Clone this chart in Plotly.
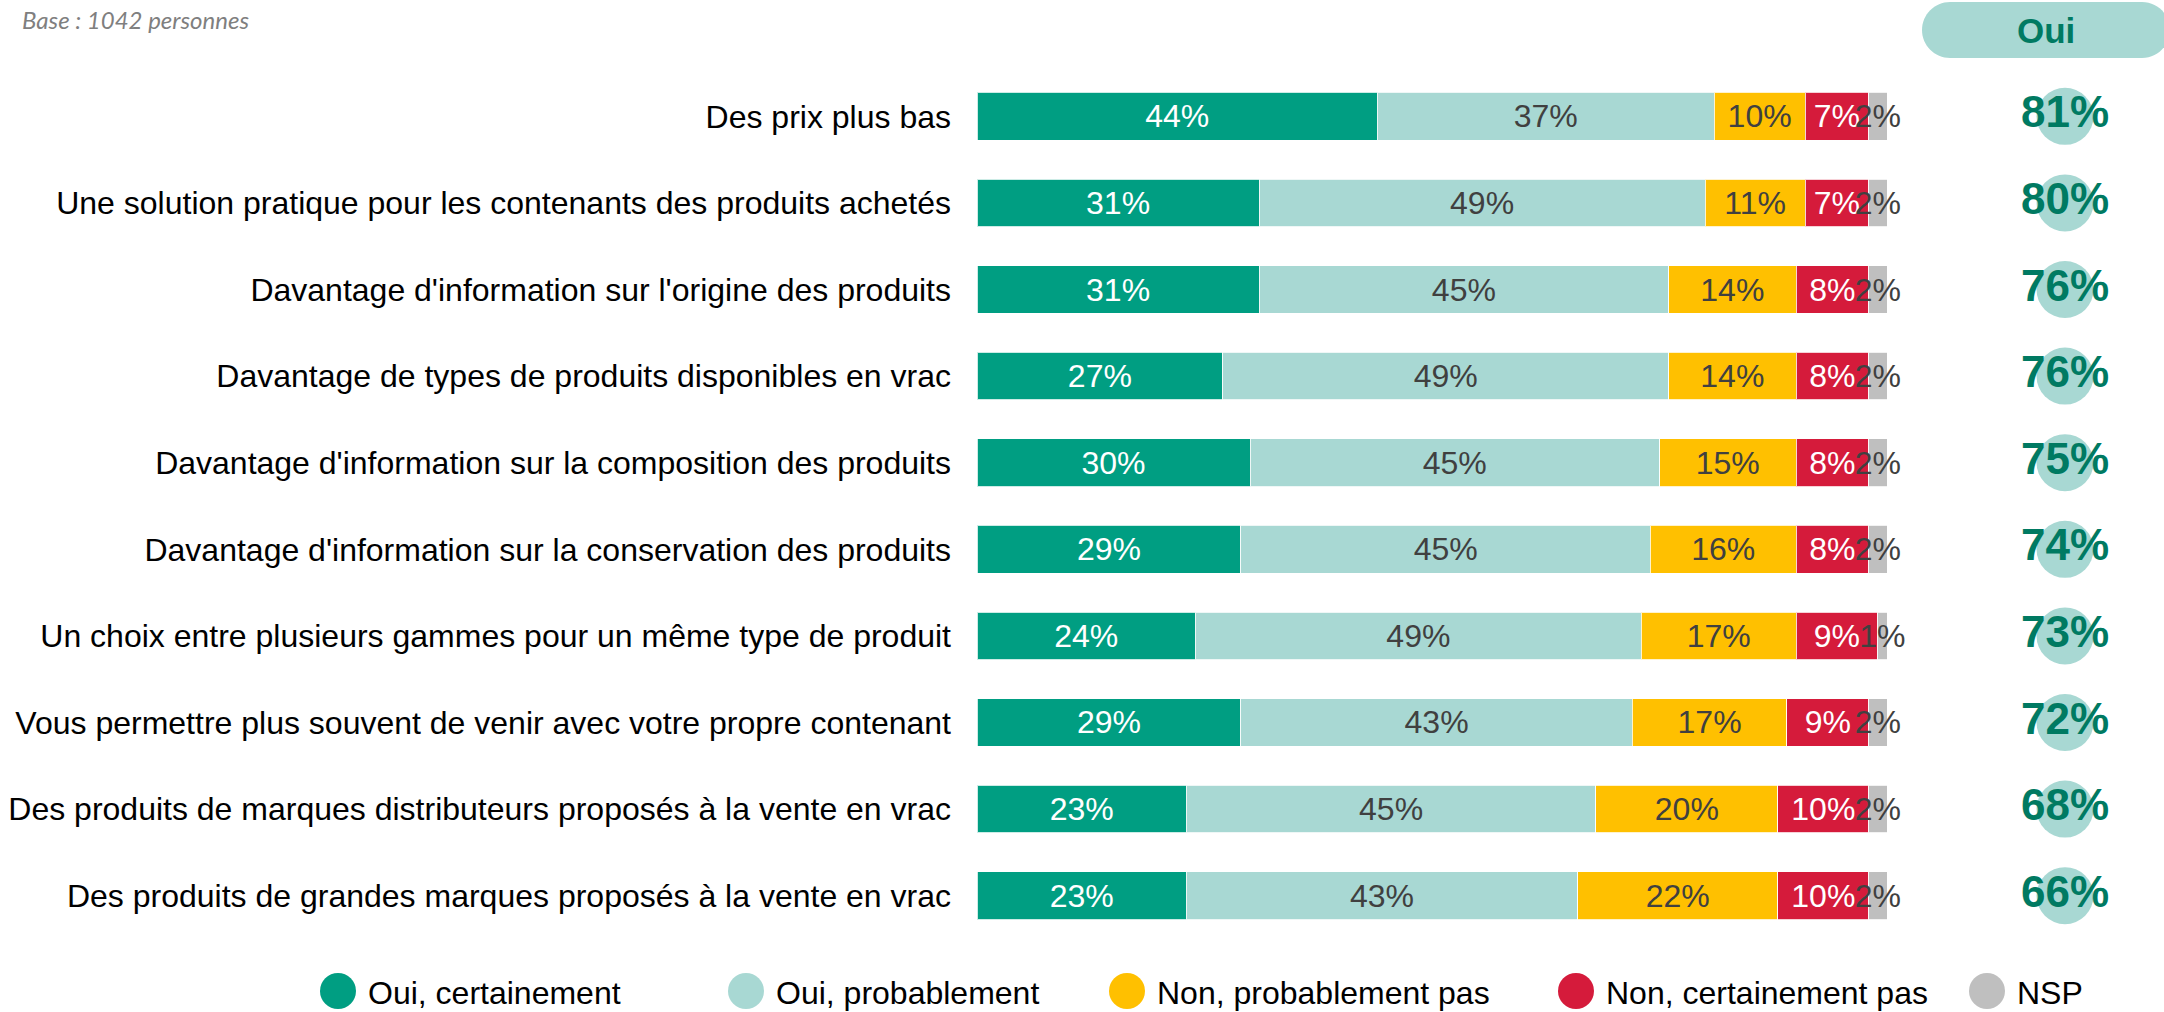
import plotly.graph_objects as go

categories = [
    "Des prix plus bas",
    "Une solution pratique pour les contenants des produits achetés",
    "Davantage d'information sur l'origine des produits",
    "Davantage de types de produits disponibles en vrac",
    "Davantage d'information sur la composition des produits",
    "Davantage d'information sur la conservation des produits",
    "Un choix entre plusieurs gammes pour un même type de produit",
    "Vous permettre plus souvent de venir avec votre propre contenant",
    "Des produits de marques distributeurs proposés à la vente en vrac",
    "Des produits de grandes marques proposés à la vente en vrac",
]
oui_certainement = [44, 31, 31, 27, 30, 29, 24, 29, 23, 23]
oui_probablement = [37, 49, 45, 49, 45, 45, 49, 43, 45, 43]
non_probablement = [10, 11, 14, 14, 15, 16, 17, 17, 20, 22]
non_certainement = [7, 7, 8, 8, 8, 8, 9, 9, 10, 10]
nsp = [2, 2, 2, 2, 2, 2, 1, 2, 2, 2]
series_names = ["Oui, certainement", "Oui, probablement", "Non, probablement pas",
                "Non, certainement pas", "NSP"]
oui_totals = [a + b for a, b in zip(oui_certainement, oui_probablement)]

colors = ["#009E82", "#A8D8D3", "#FFC000", "#D51B3B", "#BFBFBF"]
text_colors = ["#FFFFFF", "#404040", "#404040", "#FFFFFF", "#404040"]
DARK = "#007A62"
FONT = "Liberation Sans, Arial, sans-serif"

W, H = 2164, 1012
ML, MR, MT, MB = 977, 0, 73, 73
PW, PH = W - ML - MR, H - MT - MB
BAR_END = 1887


def px_x(px):
    return (px - ML) / PW


def px_y(py):
    return (H - MB - py) / PH


fig = go.Figure()
all_series = [oui_certainement, oui_probablement, non_probablement, non_certainement, nsp]
for name, vals, col, tcol in zip(series_names, all_series, colors, text_colors):
    fig.add_trace(go.Bar(
        y=categories, x=vals, orientation="h", name=name,
        marker=dict(color=col, line=dict(color="rgba(255,255,255,0.8)", width=1)),
        text=[f"{v}%" for v in vals], textposition="inside",
        insidetextanchor="middle", textangle=0, constraintext="none",
        insidetextfont=dict(family=FONT, size=32, color=tcol),
        cliponaxis=False, showlegend=False, hoverinfo="skip",
    ))

# total "Oui" column
fig.add_trace(go.Scatter(
    x=[0.5] * len(categories), y=categories, mode="markers+text",
    marker=dict(size=57, color="#A8D8D3", line=dict(width=0)),
    text=[f"<b>{v}%</b>" for v in oui_totals], textposition="middle center",
    textfont=dict(family=FONT, size=44, color=DARK),
    xaxis="x2", yaxis="y", cliponaxis=False, showlegend=False, hoverinfo="skip",
))

k = 0.5523 * 28
pill = (f"M -96,-28 L 96,-28 C {96+k},-28 124,{-k} 124,0 C 124,{k} {96+k},28 96,28 "
        f"L -96,28 C {-96-k},28 -124,{k} -124,0 C -124,{-k} {-96-k},-28 -96,-28 Z")
shapes = [dict(type="path", xref="paper", yref="paper", xsizemode="pixel", ysizemode="pixel",
               xanchor=px_x(2046), yanchor=px_y(30), path=pill,
               fillcolor="#A8D8D3", line=dict(width=0), layer="below")]

annotations = [
    dict(text="<b>Oui</b>", xref="paper", yref="paper", x=px_x(2046), y=px_y(31),
         xanchor="center", yanchor="middle",
         showarrow=False, font=dict(family=FONT, size=35, color=DARK)),
    dict(text="<i>Base : 1042 personnes</i>", xref="paper", yref="paper",
         x=px_x(20), y=px_y(19), xanchor="left", yanchor="middle", showarrow=False,
         font=dict(family="Lato, Open Sans, sans-serif", size=24, color="#7F7F7F")),
]

legend_circle_x = [338, 746, 1127, 1576, 1987]
legend_y = 991
for name, col, cx in zip(series_names, colors, legend_circle_x):
    shapes.append(dict(type="circle", xref="paper", yref="paper", xsizemode="pixel",
                       ysizemode="pixel", xanchor=px_x(cx), yanchor=px_y(legend_y),
                       x0=-18, x1=18, y0=-18, y1=18, fillcolor=col, line=dict(width=0)))
    annotations.append(dict(text=name, xref="paper", yref="paper", x=px_x(cx + 28),
                            y=px_y(legend_y + 2), xanchor="left", yanchor="middle",
                            showarrow=False,
                            font=dict(family=FONT, size=32, color="#000000")))

n = len(categories)
fig.update_layout(
    width=W, height=H, barmode="stack", bargap=0.45,
    margin=dict(l=ML, r=MR, t=MT, b=MB, autoexpand=False),
    paper_bgcolor="white", plot_bgcolor="rgba(0,0,0,0)",
    xaxis=dict(range=[0, 100], domain=[0, px_x(BAR_END)], visible=False, fixedrange=True),
    xaxis2=dict(range=[0, 1], domain=[px_x(2065 - 60), px_x(2065 + 60)], anchor="y",
                visible=False, fixedrange=True),
    yaxis=dict(range=[n - 0.5, -0.5], autorange=False, showgrid=False, zeroline=False,
               showline=False, ticks="", ticklabelstandoff=25, fixedrange=True,
               tickfont=dict(family=FONT, size=32, color="#000000")),
    shapes=shapes, annotations=annotations,
    font=dict(family=FONT),
)

fig.write_html("out.html", config={"displayModeBar": False},
               post_script="document.body.style.margin='0';")
